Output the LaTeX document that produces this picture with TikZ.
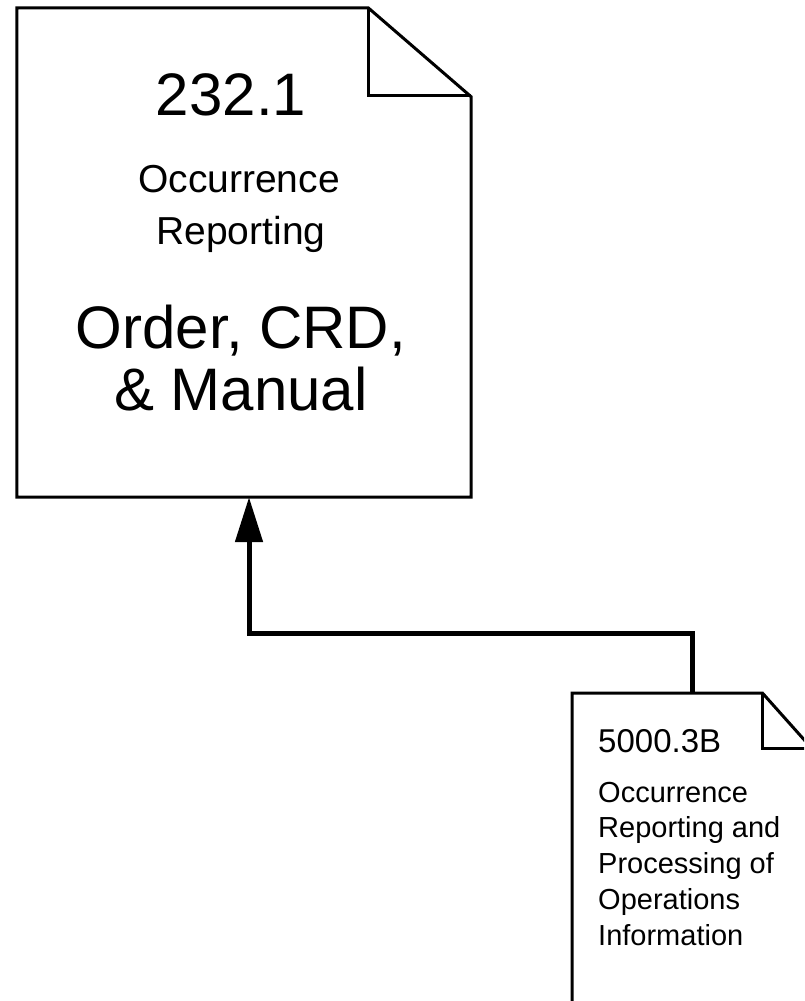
\documentclass[tikz,border=0pt]{standalone}
\usepackage{fontspec}
\setmainfont{Liberation Sans}
\usetikzlibrary{arrows.meta}
\tikzset{
  docline/.style={line width=3pt, line join=miter},
  link/.style={line width=5pt, -{Triangle[length=45pt,width=27pt]}},
  big/.style={anchor=base, inner sep=0pt, font=\fontsize{60}{60}\selectfont},
  mid/.style={anchor=base, inner sep=0pt, font=\fontsize{39}{39}\selectfont},
  small/.style={anchor=base west, inner sep=0pt, font=\fontsize{29}{29}\selectfont}
}
\begin{document}
\begin{tikzpicture}[x=1pt,y=-1pt]
\useasboundingbox (0,0) rectangle (804,1001);
\clip (0,0) rectangle (804,1001);

% documents
\node[minimum width=454pt, minimum height=489pt, inner sep=0pt] (crd) at (244,252.5) {};
\node[minimum width=240pt, minimum height=360pt, inner sep=0pt, anchor=north west] (ops) at (572,693) {};

\draw[docline] (crd.north west) -- ([xshift=-103pt]crd.north east) -- ([yshift=-89pt]crd.north east)
  -- (crd.south east) -- (crd.south west) -- cycle;
\draw[docline] ([xshift=-103pt]crd.north east) -- ([xshift=-103pt,yshift=-88pt]crd.north east) -- ([yshift=-88pt]crd.north east);

\draw[docline] (ops.north west) -- ([xshift=-50pt]ops.north east) -- ([yshift=-56pt]ops.north east)
  -- (ops.south east) -- (ops.south west) -- cycle;
\draw[docline] ([xshift=-50pt]ops.north east) -- ([xshift=-50pt,yshift=-55pt]ops.north east) -- ([yshift=-55pt]ops.north east);

% texts
\node[big] (crdnum) at (231,115) {232.1};
\node[mid] (crdt1) at (239,192) {Occurrence};
\node[mid] (crdt2) at (241,244) {Reporting};
\node[big] (crdt3) at (241,348) {Order, CRD,};
\node[big] (crdt4) at (241,410) {\& Manual};

\node[small, font=\fontsize{33}{33}\selectfont] (opsnum) at (598,752) {5000.3B};
\node[small] (opst1) at (598,802) {Occurrence};
\node[small] (opst2) at (598,837) {Reporting and};
\node[small] (opst3) at (598,873) {Processing of};
\node[small] (opst4) at (598,909) {Operations};
\node[small] (opst5) at (598,945) {Information};

% connector
\draw[link] (ops.north) -- (ops.north |- 0,633) -| ([xshift=5pt]crd.south);
\end{tikzpicture}
\end{document}
